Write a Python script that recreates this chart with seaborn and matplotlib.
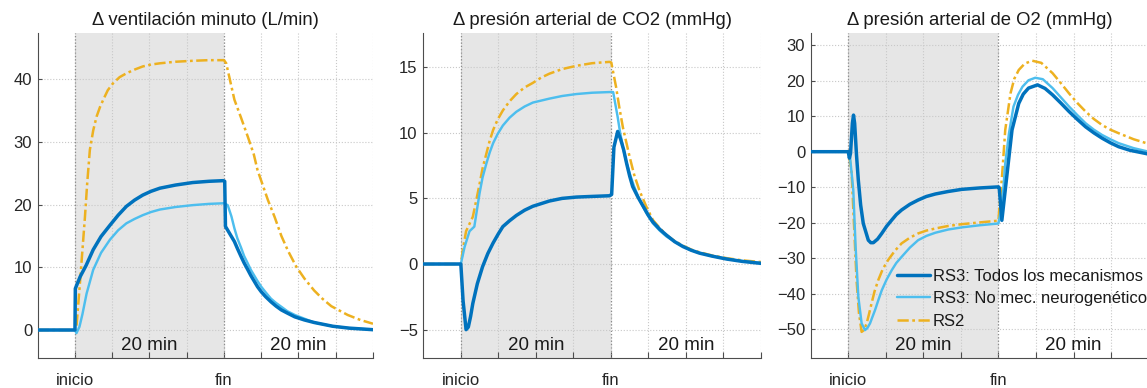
import numpy as np
import pandas as pd
import matplotlib
matplotlib.use("Agg")
import matplotlib.pyplot as plt
import matplotlib.transforms as mtransforms
import seaborn as sns

# ---------------- data (minutes, deltas) ----------------
series_names = ["RS3: Todos los mecanismos", "RS3: No mec. neurogenético", "RS2"]
titles = ["Δ ventilación minuto (L/min)", "Δ presión arterial de CO2 (mmHg)", "Δ presión arterial de O2 (mmHg)"]
xtick_pos = [0, 5, 10, 15, 20, 25, 30, 35, 40]
xtick_labels = ["inicio", "", "", "", "fin", "", "", "", ""]
period_labels = ["20 min", "20 min"]
period_centers = [10, 30]

# Panel 1: minute ventilation
t_ve_all = [-5, 0, 0.05, 0.7, 1.5, 2.45, 3.5, 4.7, 5.8, 6.9, 8, 9.1, 10.2, 11.4, 13.5, 15.8, 18, 19.9, 20.1, 20.2,
            20.8, 21.4, 21.8, 22.3, 22.7, 23.2, 23.6, 24.1, 24.5, 25, 25.6, 26.3, 27, 27.7, 28.5, 29.5, 30.8, 32.1,
            34.6, 36.8, 40]
ve_all = [0, 0, 6.6, 8.5, 10.3, 12.8, 14.9, 16.7, 18.3, 19.7, 20.7, 21.5, 22.1, 22.6, 23.1, 23.5, 23.7, 23.8, 23.7, 16.5,
          15.3, 14.1, 13.0, 11.7, 10.7, 9.6, 8.7, 7.7, 6.9, 6.1, 5.3, 4.5, 3.8, 3.2, 2.7, 2.1, 1.6, 1.2,
          0.6, 0.3, 0.05]
t_ve_noneuro = [-5, 0, 0.2, 0.6, 1.0, 1.56, 2.45, 3.5, 4.7, 5.8, 6.9, 8, 9.1, 10.2, 11.4, 13.5, 15.8, 18, 20, 20.5,
                21, 21.4, 21.8, 22.3, 22.7, 23.2, 23.6, 24.1, 24.5, 25, 25.6, 26.3, 27, 27.7, 28.5, 29.5, 30.8, 32.1,
                34.6, 36.8, 40]
ve_noneuro = [0, 0, -0.5, 0.5, 2.5, 5.8, 9.6, 12.3, 14.4, 15.9, 17.0, 17.7, 18.3, 18.8, 19.2, 19.6, 19.9, 20.1, 20.2, 19.9,
              18.1, 16.2, 14.6, 13.1, 11.8, 10.6, 9.6, 8.6, 7.8, 6.9, 6.0, 5.0, 4.3, 3.7, 3.0, 2.4, 1.8, 1.2,
              0.6, 0.3, 0.05]
t_ve_rs2 = [-5, 0, 0.2, 0.67, 1.34, 1.65, 2.0, 2.45, 2.9, 3.35, 3.8, 4.4, 5.1, 6.0, 6.9, 8.0, 9.1, 10.2, 11.4, 13.5,
            15.8, 17.9, 20, 20.3, 21.4, 22.3, 23.2, 24.0, 24.5, 25.9, 26.8, 27.7, 28.6, 29.7, 30.8, 32.1, 33.2, 34.4,
            36.6, 38.3, 40]
ve_rs2 = [0, 0, 0.5, 7.5, 18, 23.5, 28.7, 31.8, 34, 35.5, 36.7, 38.2, 39.3, 40.3, 40.9, 41.5, 42, 42.3, 42.5, 42.75,
          42.9, 43.0, 43.0, 42.5, 36.7, 33.8, 30.8, 28.0, 25.5, 20.7, 18.0, 15.0, 12.6, 10.1, 8.2, 6.3, 5.0, 3.8,
          2.4, 1.6, 1.0]

# Panel 2: arterial CO2
t_co2_all = [-5, 0, 0.3, 0.7, 1.0, 1.3, 1.6, 2.2, 2.9, 3.6, 4.3, 5.0, 5.6, 6.5, 7.4, 8.5, 9.6, 10.7, 11.8, 13.5, 15.4,
             17.5, 19.8, 20.1, 20.4, 20.9, 21.3, 21.7, 22.1, 22.5, 22.9, 23.6, 24.3, 25, 25.6, 26.5, 27.4, 28.5, 29.6,
             30.7, 31.8, 33.5, 35.4, 37.5, 40]
co2_all = [0, 0, -2.8, -5.0, -4.8, -4.0, -3.0, -1.5, -0.2, 0.8, 1.6, 2.3, 2.85, 3.3, 3.7, 4.1, 4.4, 4.6, 4.8, 5.0, 5.1,
           5.15, 5.2, 5.3, 8.9, 10.1, 9.5, 8.7, 7.65, 6.7, 5.9, 5.1, 4.4, 3.7, 3.2, 2.65, 2.2, 1.7, 1.33,
           1.05, 0.83, 0.6, 0.38, 0.2, 0.05]
t_co2_noneuro = [-5, 0, 0.5, 1.16, 1.8, 2.5, 2.9, 3.4, 3.85, 4.3, 4.9, 5.6, 6.5, 7.4, 8.5, 9.6, 10.7, 11.8, 13.5, 15.4,
                 17.5, 19.8, 20.3, 20.9, 21.2, 21.6, 22.0, 22.5, 23.1, 23.8, 24.7, 25.6, 26.5, 27.4, 28.5, 29.6, 30.7,
                 31.8, 33.5, 35.4, 37.5, 40]
co2_noneuro = [0, 0, 1.3, 2.5, 2.85, 5.4, 6.6, 7.65, 8.5, 9.2, 9.9, 10.55, 11.15, 11.6, 12.0, 12.3, 12.45, 12.6, 12.8,
               12.95, 13.05, 13.1, 13.1, 11.2, 10.1, 8.9, 7.9, 6.9, 5.9, 4.9, 3.9, 3.1, 2.55, 2.1, 1.7, 1.35, 1.05,
               0.85, 0.6, 0.4, 0.22, 0.08]
t_co2_rs2 = [-5, 0, 0.27, 0.7, 1.6, 2.0, 2.5, 2.9, 3.4, 3.85, 4.3, 4.9, 5.6, 6.5, 7.4, 8.5, 9.6, 10.7, 11.8, 13.5, 15.4,
             17.5, 19.8, 20.05, 20.7, 21.1, 21.6, 22.0, 22.5, 23.1, 23.8, 24.7, 25.6, 26.5, 27.4, 28.5, 29.6, 30.7,
             31.8, 33.5, 35.4, 37.5, 40]
co2_rs2 = [0, 0, 1.1, 2.5, 3.6, 4.7, 6.1, 7.3, 8.4, 9.4, 10.2, 11.0, 11.7, 12.4, 12.95, 13.45, 13.8, 14.2, 14.5, 14.85,
           15.1, 15.3, 15.4, 15.35, 13.45, 12.0, 10.4, 9.4, 8.15, 6.8, 5.6, 4.4, 3.35, 2.75, 2.2, 1.75, 1.4, 1.1,
           0.9, 0.65, 0.45, 0.28, 0.15]

# Panel 3: arterial O2
t_o2_all = [-5, 0, 0.15, 0.3, 0.55, 0.7, 0.85, 1.1, 1.34, 1.65, 2.0, 2.67, 3.0, 3.34, 3.9, 4.46, 5.1, 5.8, 6.4, 7.1,
            8.2, 9.3, 10.4, 11.6, 13.3, 15.1, 17.5, 20, 20.1, 20.45, 20.9, 21.4, 21.8, 22.7, 23.3, 24.0, 25.2, 26.2,
            27.2, 28.3, 29.4, 30.5, 31.6, 32.7, 33.8, 34.9, 36.0, 37.5, 39.6, 40]
o2_all = [0, 0, -1.8, -0.5, 8, 10.3, 8, -1, -8, -15, -20.2, -24.9, -25.6, -25.6, -24.6, -23, -21, -19.2, -17.7, -16.4,
          -14.8, -13.6, -12.6, -11.9, -11.2, -10.6, -10.2, -9.9, -10.2, -19.3, -10.8, -1.4, 6.1, 13.6, 16.2, 17.9,
          18.8, 17.8, 16, 13.7, 11.3, 9.1, 7.0, 5.3, 3.8, 2.5, 1.4, 0.4, -0.5, -0.7]
t_o2_noneuro = [-5, 0, 0.23, 0.67, 0.98, 1.34, 1.78, 2.23, 2.55, 2.9, 3.2, 3.56, 4.0, 4.46, 5.1, 5.8, 6.4, 7.1, 8.2,
                9.3, 10.4, 11.6, 13.3, 15.1, 17.5, 20, 20.5, 20.9, 21.4, 22, 22.6, 23.2, 24.0, 24.9, 25.9, 27.2, 28.3,
                29.4, 30.5, 31.6, 32.7, 33.8, 34.9, 36, 38, 40]
o2_noneuro = [0, 0, -1.4, -10.8, -26.8, -40.8, -48.3, -50.2, -49.6, -48.3, -46.6, -44.6, -41.8, -39, -36, -33.3, -31.3,
              -29.6, -27, -24.9, -23.7, -22.8, -21.9, -21.3, -20.7, -20.2, -14.5, -3.3, 5.2, 12.7, 16, 18.3, 20.1, 20.8,
              20.4, 17.9, 15.3, 12.7, 10.3, 8.0, 6.2, 4.7, 3.5, 2.4, 1.0, 0]
t_o2_rs2 = [-5, 0, 0.1, 0.45, 0.8, 1.1, 1.43, 1.78, 2.1, 2.45, 2.75, 3.1, 3.5, 4.0, 4.6, 5.3, 6.2, 7.1, 8.2, 9.3, 10.4,
            11.6, 13.3, 15.1, 17.5, 20, 20.1, 20.5, 20.9, 21.6, 22.1, 22.7, 23.5, 24.5, 25.7, 27.2, 28.3, 29.4, 30.5,
            31.6, 32.7, 33.8, 34.9, 36, 38, 40]
o2_rs2 = [0, 0, -0.5, -6, -22, -36, -45.5, -50.7, -50.2, -48.3, -45.8, -42.7, -39.3, -36.1, -33, -30.5, -27.9, -25.8,
          -24.2, -23, -22.2, -21.6, -20.9, -20.4, -19.9, -19.4, -16.4, -6.1, 6.1, 16.4, 20.5, 23, 24.8, 25.6, 25.0,
          22.1, 19.3, 16.4, 13.7, 11.3, 9.2, 7.5, 6.2, 5.2, 3.5, 2.2]

panels = [
    [(t_ve_all, ve_all), (t_ve_noneuro, ve_noneuro), (t_ve_rs2, ve_rs2)],
    [(t_co2_all, co2_all), (t_co2_noneuro, co2_noneuro), (t_co2_rs2, co2_rs2)],
    [(t_o2_all, o2_all), (t_o2_noneuro, o2_noneuro), (t_o2_rs2, o2_rs2)],
]
yticks = [[0, 10, 20, 30, 40], [-5, 0, 5, 10, 15], [-50, -40, -30, -20, -10, 0, 10, 20, 30]]
ylims = [(-4.46, 47.33), (-7.16, 17.6), (-58.05, 33.4)]

# ---------------- style ----------------
sns.set_theme(style="white")
plt.rcParams['font.family'] = ['Liberation Sans', 'DejaVu Sans']

colors = ["#0072BD", "#4DBEEE", "#EDB120"]
widths = [2.5, 1.75, 1.8]
rs2_dashes = (4.5, 1.4, 1.1, 1.4)

fig = plt.figure(figsize=(11.47, 3.88), dpi=100)
W, H = 1147.0, 388.0
ax_px = [(37.7, 335.3), (423.3, 337.7), (810.7, 338.0)]
bottom_px, top_px = 358.0, 33.0

axes = []
for i, (lx, w) in enumerate(ax_px):
    ax = fig.add_axes([lx / W, (H - bottom_px) / H, w / W, (bottom_px - top_px) / H])
    axes.append(ax)
    ax.set_axisbelow(True)
    ax.axvspan(0, 20, color="#e6e6e6", zorder=0.1, lw=0)
    for k in [2, 1, 0]:
        t, v = panels[i][k]
        df = pd.DataFrame({"t": t, "v": v})
        sns.lineplot(data=df, x="t", y="v", ax=ax, estimator=None, sort=False,
                     color=colors[k], linewidth=widths[k], label=series_names[k], zorder=3 + (2 - k))
        ln = ax.lines[-1]
        ln.set_solid_joinstyle("round")
        ln.set_dash_joinstyle("round")
        if k == 2:
            ln.set_dashes(rs2_dashes)
    ax.axvline(0, color="#8c8c8c", ls=":", lw=0.9, zorder=0.6)
    ax.axvline(20, color="#8c8c8c", ls=":", lw=0.9, zorder=0.6)
    ax.set_xlim(-5, 40)
    ax.set_ylim(*ylims[i])
    ax.set_xticks(xtick_pos)
    ax.set_xticklabels(xtick_labels)
    ax.set_yticks(yticks[i])
    ax.set_xlabel("")
    ax.set_ylabel("")
    ax.grid(True, ls=":", color="#c8c8c8", lw=0.8)
    for s in ["top", "right"]:
        ax.spines[s].set_visible(False)
    for s in ["left", "bottom"]:
        ax.spines[s].set_color("#4d4d4d")
        ax.spines[s].set_linewidth(0.8)
    ax.tick_params(axis="x", direction="in", length=4, width=0.8, color="#4d4d4d", pad=11, labelsize=12,
                   labelcolor="#262626", bottom=True)
    ax.tick_params(axis="y", direction="in", length=3, width=0.8, color="#4d4d4d", pad=4, labelsize=12,
                   labelcolor="#262626", left=True)
    ax.set_title(titles[i], fontsize=13.3, pad=6, color="#1a1a1a")
    trans = mtransforms.blended_transform_factory(ax.transData, ax.transAxes)
    for lab, c in zip(period_labels, period_centers):
        ax.text(c, 0.04, lab, transform=trans, ha="center", va="center", fontsize=13.5, color="#1a1a1a")
    if ax.get_legend() is not None:
        ax.get_legend().remove()

ax3 = axes[2]
handles, labels = ax3.get_legend_handles_labels()
order = [labels.index(n) for n in series_names]
leg = ax3.legend([handles[j] for j in order], [labels[j] for j in order], loc="upper left",
                 bbox_to_anchor=(0.255, 0.275), frameon=False, fontsize=12, handlelength=2.0,
                 handletextpad=0.15, labelspacing=0.45, borderpad=0, borderaxespad=0)
for t in leg.get_texts():
    t.set_color("#1a1a1a")

fig.savefig("out.png", dpi=100)
